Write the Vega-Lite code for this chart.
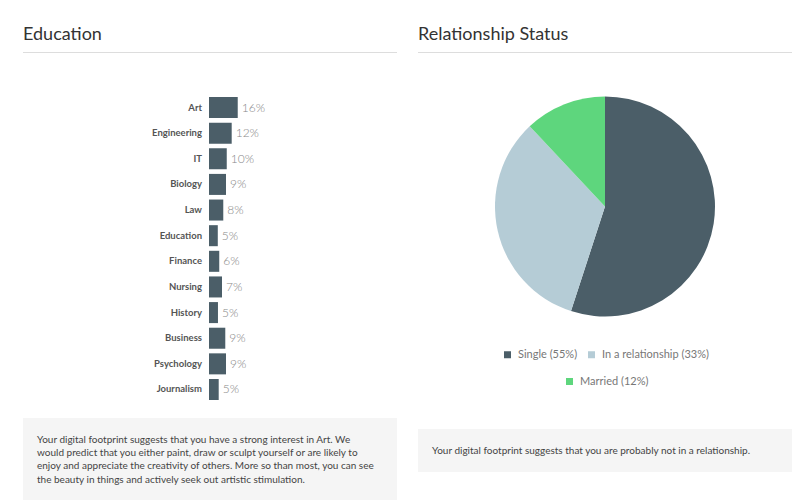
{
  "$schema": "https://vega.github.io/schema/vega-lite/v6.json",
  "background": "white",
  "padding": {"left": 23, "top": 26, "right": 8, "bottom": 0},
  "config": {
    "view": {"stroke": null},
    "font": "Lato",
    "title": {"font": "Lato", "fontWeight": "normal", "color": "#333333"}
  },
  "datasets": {
    "education": [
      {"field": "Art", "share": 0.157},
      {"field": "Engineering", "share": 0.124},
      {"field": "IT", "share": 0.097},
      {"field": "Biology", "share": 0.093},
      {"field": "Law", "share": 0.078},
      {"field": "Education", "share": 0.048},
      {"field": "Finance", "share": 0.056},
      {"field": "Nursing", "share": 0.071},
      {"field": "History", "share": 0.049},
      {"field": "Business", "share": 0.089},
      {"field": "Psychology", "share": 0.093},
      {"field": "Journalism", "share": 0.053}
    ],
    "relationship": [
      {"status": "Single (55%)", "share": 55, "rank": 1},
      {"status": "In a relationship (33%)", "share": 33, "rank": 2},
      {"status": "Married (12%)", "share": 12, "rank": 3}
    ],
    "one": [{}]
  },
  "spacing": 21,
  "hconcat": [
    {
      "spacing": 44,
      "vconcat": [
        {
          "width": 374,
          "height": 1,
          "data": {"name": "one"},
          "mark": {"type": "rect", "color": "#dddddd"},
          "encoding": {},
          "title": {"text": "Education", "anchor": "start", "frame": "group", "fontSize": 18, "baseline": "alphabetic", "offset": -6}
        },
        {
          "spacing": 18,
          "vconcat": [
            {
              "width": 374,
              "height": 303,
              "data": {"name": "education"},
              "encoding": {
                "y": {"field": "field", "type": "nominal", "sort": null, "axis": null,
                      "scale": {"paddingInner": 0.18, "paddingOuter": 0}}
              },
              "layer": [
                {
                  "mark": {"type": "bar", "color": "#4b5e68"},
                  "encoding": {
                    "x": {"field": "share", "type": "quantitative", "axis": null,
                          "scale": {"domain": [-1.0164, 1.0273], "nice": false, "zero": false}}
                  }
                },
                {
                  "mark": {"type": "text", "align": "right", "dx": -7, "fontSize": 9.5, "fontWeight": "bold", "color": "#555555"},
                  "encoding": {
                    "x": {"datum": 0, "type": "quantitative"},
                    "text": {"field": "field"}
                  }
                },
                {
                  "mark": {"type": "text", "align": "left", "dx": 4, "fontSize": 12, "fontWeight": 300, "color": "#888888"},
                  "encoding": {
                    "x": {"field": "share", "type": "quantitative"},
                    "text": {"field": "share", "type": "quantitative", "format": ".0%"}
                  }
                }
              ]
            },
            {
              "width": 374,
              "height": 84,
              "data": {"name": "one"},
              "mark": {"type": "rect", "color": "#f5f5f5"},
              "encoding": {},
              "title": {
                "text": [
                  "Your digital footprint suggests that you have a strong interest in Art. We",
                  "would predict that you either paint, draw or sculpt yourself or are likely to",
                  "enjoy and appreciate the creativity of others. More so than most, you can see",
                  "the beauty in things and actively seek out artistic stimulation."
                ],
                "anchor": "start", "frame": "group", "baseline": "top", "offset": -66.7, "dx": 14,
                "fontSize": 10, "lineHeight": 13.3, "color": "#444444"
              }
            }
          ]
        }
      ]
    },
    {
      "spacing": 0,
      "vconcat": [
        {
          "width": 374,
          "height": 1,
          "data": {"name": "one"},
          "mark": {"type": "rect", "color": "#dddddd"},
          "encoding": {},
          "title": {"text": "Relationship Status", "anchor": "start", "frame": "group", "fontSize": 18, "baseline": "alphabetic", "offset": -6}
        },
        {
          "spacing": 42,
          "vconcat": [
            {
              "width": 374,
              "height": 307,
              "data": {"name": "relationship"},
              "layer": [
                {
                  "mark": {"type": "arc", "radius": 110},
                  "encoding": {
                    "theta": {"field": "share", "type": "quantitative", "stack": true},
                    "order": {"field": "rank", "type": "quantitative"},
                    "color": {
                      "field": "status", "type": "nominal",
                      "scale": {"domain": ["Single (55%)", "In a relationship (33%)", "Married (12%)"], "range": ["#4b5e68", "#b5ccd6", "#5ed67d"]},
                      "legend": {
                        "values": ["Single (55%)", "In a relationship (33%)"],
                        "title": null, "orient": "none", "direction": "horizontal",
                        "legendX": 84, "legendY": 296,
                        "symbolType": "square", "symbolSize": 49, "symbolStrokeWidth": 0,
                        "labelFontSize": 11, "labelColor": "#777777", "labelOffset": 5, "columnPadding": 8
                      }
                    }
                  }
                },
                {
                  "mark": {"type": "arc", "radius": 110, "opacity": 0},
                  "encoding": {
                    "theta": {"field": "share", "type": "quantitative", "stack": true},
                    "order": {"field": "rank", "type": "quantitative"},
                    "fill": {
                      "field": "status", "type": "nominal",
                      "scale": {"domain": ["Married (12%)"], "range": ["#5ed67d"]},
                      "legend": {
                        "title": null, "orient": "none", "direction": "horizontal",
                        "legendX": 146, "legendY": 323,
                        "symbolType": "square", "symbolSize": 49, "symbolStrokeWidth": 0, "symbolOpacity": 1,
                        "labelFontSize": 11, "labelColor": "#777777", "labelOffset": 5
                      }
                    }
                  }
                }
              ],
              "resolve": {"scale": {"color": "independent", "fill": "independent"}}
            },
            {
              "width": 374,
              "height": 43,
              "data": {"name": "one"},
              "mark": {"type": "rect", "color": "#f5f5f5"},
              "encoding": {},
              "title": {
                "text": "Your digital footprint suggests that you are probably not in a relationship.",
                "anchor": "start", "frame": "group", "baseline": "top", "offset": -26.7, "dx": 14,
                "fontSize": 10, "lineHeight": 13.3, "color": "#444444"
              }
            }
          ]
        }
      ]
    }
  ]
}
